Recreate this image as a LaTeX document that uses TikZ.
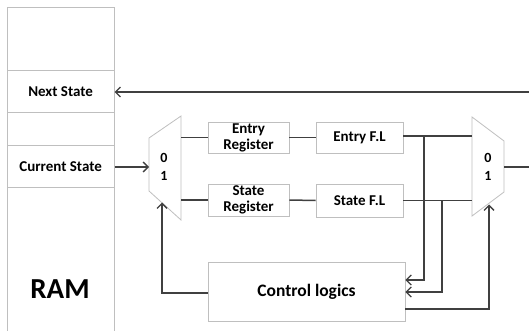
\documentclass[tikz,border=0pt]{standalone}
\usepackage{fontspec}
\setmainfont{Carlito}
\usetikzlibrary{arrows.meta}
\definecolor{boxgray}{HTML}{BFBFBF}
\definecolor{wiregray}{HTML}{404040}
\begin{document}
\begin{tikzpicture}[x=1pt,y=-1pt,
  cell/.style={draw=boxgray,line width=0.8pt,inner sep=0pt,minimum width=107pt,anchor=north west,font=\bfseries\fontsize{15}{17}\selectfont},
  blk/.style={draw=boxgray,line width=0.8pt,fill=white,inner sep=0pt,align=center,font=\bfseries\fontsize{15}{16}\selectfont},
  muxshape/.style={draw=boxgray,line width=0.8pt,fill=white},
  muxlbl/.style={inner sep=0pt,font=\bfseries\fontsize{14}{16}\selectfont},
  wire/.style={draw=wiregray,line width=1.5pt},
  arr/.style={wire,-{Straight Barb[length=5pt,width=10pt,line width=1.3pt]}}]
\useasboundingbox (0,0) rectangle (529,331);
% RAM column
\node[cell,minimum height=63pt] (ramtop) at (6.7,7) {};
\node[cell,minimum height=42pt] (next) at (6.7,70) {Next State};
\node[cell,minimum height=33pt] (gap) at (6.7,112) {};
\node[cell,minimum height=42pt] (cur) at (6.7,145) {Current State};
\node[cell,minimum height=150pt] (ram) at (6.7,187) {};
\node[font=\bfseries\fontsize{29}{32}\selectfont,inner sep=0pt] (ramlbl) at (60,289) {RAM};
% multiplexers
\coordinate (m1a) at (149,138); \coordinate (m1b) at (181,116);
\coordinate (m1c) at (181,220); \coordinate (m1d) at (149,191);
\draw[muxshape] (m1a) -- (m1b) -- (m1c) -- (m1d) -- cycle;
\node[muxlbl] (m1z) at (164,158) {0};
\node[muxlbl] (m1o) at (164,176) {1};
\coordinate (m2a) at (472,117); \coordinate (m2b) at (504,141);
\coordinate (m2c) at (504,192); \coordinate (m2d) at (472,216);
\draw[muxshape] (m2a) -- (m2b) -- (m2c) -- (m2d) -- cycle;
\node[muxlbl] (m2z) at (488,158) {0};
\node[muxlbl] (m2o) at (488,176) {1};
% blocks
\node[blk,minimum width=81pt,minimum height=31pt] (ereg) at (248.5,137.5) {Entry\\Register};
\node[blk,minimum width=81pt,minimum height=32pt] (sreg) at (248.5,200) {State\\Register};
\node[blk,minimum width=87pt,minimum height=31pt] (efl) at (359.5,137.5) {Entry F.L};
\node[blk,minimum width=87pt,minimum height=33pt] (sfl) at (359.5,200.5) {State F.L};
\node[blk,minimum width=197pt,minimum height=59pt] (ctrl) at (306.5,291.5) {\fontsize{17.5}{20}\selectfont Control logics};
% coordinates
\coordinate (rightedge) at (529,92);
\coordinate (outend) at (529,167);
\coordinate (tapE) at (424,136);
\coordinate (tapS) at (442,200.5);
\coordinate (yE) at (0,280);
\coordinate (yS) at (0,292);
\coordinate (yR) at (0,309);
\coordinate (yL) at (0,293);
\coordinate (m1in) at (149,167);
\coordinate (m1bot) at (162,202.5);
\coordinate (m2bot) at (489,204.5);
% wires
\draw[arr] (rightedge) -- (next.east |- rightedge);
\draw[arr] (cur.east |- m1in) -- (m1in);
\draw[wire] (m1b |- ereg.west) -- (ereg.west);
\draw[wire] (m1b |- sreg.west) -- (sreg.west);
\draw[wire] (ereg.east) -- (efl.west);
\draw[wire] (sreg.east) -- (sfl.west);
\draw[wire] (efl.east |- tapE) -- (m2a |- tapE);
\draw[wire] (sfl.east) -- (m2a |- sfl.east);
\draw[wire] (m2b |- outend) -- (outend);
\draw[arr] (tapE) |- (ctrl.east |- yE);
\draw[arr] (tapS) |- (ctrl.east |- yS);
\draw[arr] (ctrl.east |- yR) -| (m2bot);
\draw[arr] (ctrl.west |- yL) -| (m1bot);
\end{tikzpicture}
\end{document}
